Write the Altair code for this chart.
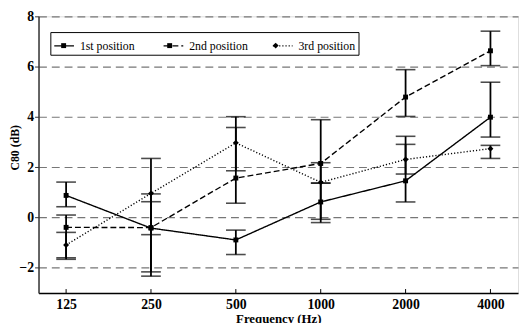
import altair as alt
import pandas as pd

freqs = ["125", "250", "500", "1000", "2000", "4000"]
series_names = ["1st position", "2nd position", "3rd position"]

pos1 = [0.88, -0.42, -0.89, 0.62, 1.46, 3.99]
pos1_lo = [0.43, -2.16, -1.47, -0.07, 0.62, 3.20]
pos1_hi = [1.41, 0.63, -0.50, 1.37, 2.91, 5.38]

pos2 = [-0.39, -0.40, 1.57, 2.15, 4.79, 6.63]
pos2_lo = [-1.66, -2.33, 0.57, -0.20, 4.02, 6.04]
pos2_hi = [0.10, 0.94, 3.58, 3.89, 5.88, 7.41]

pos3 = [-1.09, 0.96, 2.97, 1.40, 2.31, 2.74]
pos3_lo = [-1.60, -0.68, 1.86, 1.37, 1.73, 2.35]
pos3_hi = [-0.59, 2.35, 4.01, 2.18, 3.23, 2.87]

y_ticks = [-2, 0, 2, 4, 6, 8]

rows = []
for name, m, lo, hi in zip(series_names, [pos1, pos2, pos3],
                           [pos1_lo, pos2_lo, pos3_lo], [pos1_hi, pos2_hi, pos3_hi]):
    for f, v, l, h in zip(freqs, m, lo, hi):
        rows.append({"freq": f, "series": name, "series_m": name, "value": v, "lo": l, "hi": h})
df = pd.DataFrame(rows)
df_freq = pd.DataFrame({"freq": freqs})

FONT = "'Liberation Serif', 'Times New Roman', serif"

xscale = alt.Scale(type="point", domain=freqs, padding=0.325)
xaxis = alt.Axis(title="Frequency (Hz)", labelAngle=0, ticks=False, grid=False,
                 labelFont=FONT, labelFontSize=14, labelFontWeight="bold", labelColor="black",
                 labelPadding=5, titleFont=FONT, titleFontSize=13, titleFontWeight="bold",
                 titleColor="black", titlePadding=1, domainColor="black", domainWidth=1.5)
yscale = alt.Scale(domain=[-3, 8], nice=False, zero=False)
yaxis = alt.Axis(title="C80 (dB)", values=y_ticks, grid=True, gridDash=[8, 5],
                 gridColor="#777777", gridWidth=1.2, tickSize=4, tickColor="#333333",
                 labelFont=FONT, labelFontSize=14, labelFontWeight="bold", labelColor="black",
                 labelPadding=1, titleFont=FONT, titleFontSize=12, titleFontWeight="bold",
                 titleColor="black", titleX=-24, titleY=133, titleBaseline="middle",
                 domainColor="#333333", domainWidth=1.5)

x = alt.X("freq:N", scale=xscale, sort=freqs, axis=xaxis)

base = alt.Chart(df)

err = base.mark_rule(color="black", strokeWidth=1.8).encode(
    x=x, y=alt.Y("lo:Q", scale=yscale, axis=yaxis), y2="hi:Q")
cap_lo = base.mark_tick(color="black", size=20, thickness=1.6).encode(
    x=x, y=alt.Y("lo:Q", scale=yscale, axis=yaxis))
cap_hi = base.mark_tick(color="black", size=20, thickness=1.6).encode(
    x=x, y=alt.Y("hi:Q", scale=yscale, axis=yaxis))

LEG_X, LEG_Y = 12, 16
COL_PAD = 22
LABEL_W = 59.68  # width of the widest legend label at 12px Liberation Serif
common_leg = dict(title=None, orient="none", legendX=LEG_X, legendY=LEG_Y,
                  direction="horizontal", padding=3, symbolSize=400,
                  labelFont=FONT, labelFontSize=12, labelOffset=5, gridAlign="all")

lines = base.mark_line(color="black", strokeWidth=1.4).encode(
    x=x,
    y=alt.Y("value:Q", scale=yscale, axis=yaxis),
    strokeDash=alt.StrokeDash(
        "series:N",
        scale=alt.Scale(domain=series_names, range=[[1, 0], [6, 3], [1.2, 2]]),
        legend=alt.Legend(strokeColor="black", fillColor="white",
                          symbolType="M-1,0H1", symbolStrokeWidth=1.3,
                          symbolStrokeColor="black", labelColor="black",
                          columnPadding=COL_PAD, zindex=0, **common_leg),
    ),
)

square_path = "M-0.25,-0.25H0.25V0.25H-0.25Z"
diamond_path = "M0,-0.3L0.3,0L0,0.3L-0.3,0Z"

points = base.mark_point(filled=True, color="black", size=400, opacity=1).encode(
    x=x,
    y=alt.Y("value:Q", scale=yscale, axis=yaxis),
    shape=alt.Shape("series_m:N",
                    scale=alt.Scale(range=[square_path, square_path, diamond_path]),
                    legend=alt.Legend(symbolFillColor="black", symbolStrokeColor="black",
                                      symbolStrokeWidth=0.5, labelOpacity=0,
                                      labelExpr="''", columnPadding=COL_PAD + LABEL_W,
                                      zindex=1, **common_leg)),
)

xticks = alt.Chart(df_freq).mark_rule(color="black", strokeWidth=1).encode(
    x=alt.X("freq:N", scale=xscale, sort=freqs, axis=xaxis),
    y=alt.value(281), y2=alt.value(277))

chart = alt.layer(err, cap_lo, cap_hi, lines, points, xticks).properties(
    width=487, height=281,
    autosize=alt.AutoSizeParams(type="none"),
    padding={"left": 31, "top": 6, "right": 2, "bottom": 28},
).configure_view(stroke=None).configure(background="white")

chart.save("out.html", embed_options={"renderer": "svg", "actions": False})
